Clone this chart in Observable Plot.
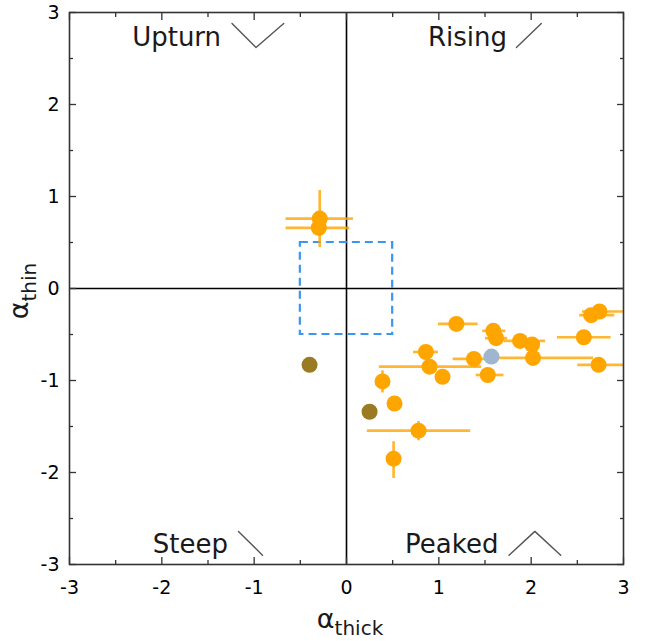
<!DOCTYPE html>
<html><head><meta charset="utf-8">
<script src="https://cdn.jsdelivr.net/npm/d3@7"></script>
<script src="https://cdn.jsdelivr.net/npm/@observablehq/plot@0.6"></script>
<style>body{margin:0;background:#fff;}</style>
</head><body><div id="chart"></div>
<script>
// ---- data ----
const pointX    = [-0.29,-0.30, 1.19, 0.86, 0.90, 1.04, 0.39, 1.59, 1.62, 1.88, 2.01, 1.38, 2.02, 1.53, 2.57, 2.73, 2.65, 2.74, 0.52, 0.78, 0.51,-0.40, 0.25, 1.57];
const pointY    = [ 0.76, 0.66,-0.385,-0.69,-0.85,-0.96,-1.01,-0.46,-0.54,-0.57,-0.61,-0.765,-0.755,-0.94,-0.53,-0.83,-0.29,-0.25,-1.25,-1.545,-1.85,-0.83,-1.34,-0.74];
const pointXLo  = [-0.66,-0.66, 0.99, 0.72, 0.35, 0.97, 0.34, 1.47, 1.50, 1.70, 1.93, 1.15, 1.62, 1.40, 2.28, 2.50, 2.52, 2.55, 0.44, 0.22, 0.46,-0.40, 0.25, 1.57];
const pointXHi  = [ 0.07, 0.03, 1.42, 0.99, 1.46, 1.10, 0.44, 1.72, 1.74, 2.15, 2.09, 1.62, 2.67, 1.70, 2.86, 3.10, 2.90, 3.10, 0.60, 1.34, 0.56,-0.40, 0.25, 1.57];
const pointYLo  = [ 0.45, 0.60,-0.42,-0.73,-0.89,-1.01,-1.13,-0.50,-0.58,-0.61,-0.66,-0.80,-0.80,-0.98,-0.57,-0.87,-0.33,-0.29,-1.33,-1.65,-2.06,-0.83,-1.34,-0.74];
const pointYHi  = [ 1.07, 0.72,-0.35,-0.65,-0.81,-0.91,-0.89,-0.42,-0.50,-0.53,-0.56,-0.73,-0.71,-0.90,-0.49,-0.79,-0.25,-0.21,-1.17,-1.44,-1.66,-0.83,-1.34,-0.74];
const pointGroup = ["o","o","o","o","o","o","o","o","o","o","o","o","o","o","o","o","o","o","o","o","o","olive","olive","blue"];

const xMajor = [-3,-2,-1,0,1,2,3];
const xMinor = [-2.5,-1.5,-0.5,0.5,1.5,2.5];
const yMajor = [-3,-2,-1,0,1,2,3];
const yMinor = [-2.5,-1.5,-0.5,0.5,1.5,2.5];

const boxRange = [-0.5, 0.5];

const annText = ["Upturn","Rising","Steep","Peaked"];
const annX = [-1.84, 1.31, -1.69, 1.14];
const annY = [2.73, 2.73, -2.78, -2.78];

const glyphName = ["up","up","up","rise","rise","steep","steep","peak","peak","peak"];
const glyphX = [-1.24,-0.98,-0.68, 1.84,2.11, -1.17,-0.91, 1.76,2.04,2.32];
const glyphY = [ 2.88, 2.62, 2.88, 2.62,2.88, -2.64,-2.90, -2.90,-2.64,-2.90];

const groupColor = {o: "#FFA500", olive: "#9A7A22", blue: "#9FB6CE"};

// ---- tables ----
const pts = pointX.map((x,i)=>({x, y: pointY[i], xlo: pointXLo[i], xhi: pointXHi[i], ylo: pointYLo[i], yhi: pointYHi[i], g: pointGroup[i]}));
const errPts = pts.filter(d => d.g === "o");
const ann = annText.map((t,i)=>({t, x: annX[i], y: annY[i]}));
const glyph = glyphName.map((n,i)=>({n, x: glyphX[i], y: glyphY[i]}));
const box = [{x1: boxRange[0], x2: boxRange[1], y1: boxRange[0], y2: boxRange[1]}];

const plot = Plot.plot({
  width: 647, height: 641,
  marginLeft: 69, marginRight: 24, marginTop: 12, marginBottom: 77,
  style: {fontFamily: "DejaVu Sans", background: "#fff", color: "#000"},
  x: {domain: [-3,3]},
  y: {domain: [-3,3]},
  marks: [
    Plot.ruleX([0], {stroke: "#000", strokeWidth: 1.6}),
    Plot.ruleY([0], {stroke: "#000", strokeWidth: 1.6}),
    Plot.rect(box, {x1:"x1", x2:"x2", y1:"y1", y2:"y2", fill: "none", stroke: "#3A96F0", strokeWidth: 2.2, strokeDasharray: "8,5"}),
    Plot.link(errPts, {x1: "xlo", x2: "xhi", y1: "y", y2: "y", stroke: "#FFA500", strokeOpacity: 0.8, strokeWidth: 2.7, clip: true}),
    Plot.link(errPts, {x1: "x", x2: "x", y1: "ylo", y2: "yhi", stroke: "#FFA500", strokeOpacity: 0.8, strokeWidth: 2.7, clip: true}),
    Plot.dot(pts, {x: "x", y: "y", r: 8, fill: d => groupColor[d.g], stroke: "none"}),
    Plot.line(glyph, {x: "x", y: "y", z: "n", stroke: "#555", strokeWidth: 1.4}),
    Plot.text(ann, {x: "x", y: "y", text: "t", fontSize: 26, fill: "#1a1a1a"}),
    Plot.frame({stroke: "#333", strokeWidth: 1.6}),
    // tick labels
    Plot.axisX(xMajor, {anchor: "bottom", tickSize: 0, tickPadding: 16, fontSize: 19, label: null, tickFormat: d => String(d)}),
    Plot.axisY(yMajor, {anchor: "left", tickSize: 0, tickPadding: 10, fontSize: 19, label: null, tickFormat: d => String(d)}),
    // inward ticks
    Plot.axisX(xMajor, {anchor: "bottom", tickSize: -7, tickFormat: () => "", label: null, stroke: "#333", strokeWidth: 1.3}),
    Plot.axisX(xMinor, {anchor: "bottom", tickSize: -4, tickFormat: () => "", label: null, stroke: "#333", strokeWidth: 1.3}),
    Plot.axisX(xMajor, {anchor: "top", tickSize: -7, tickFormat: () => "", label: null, stroke: "#333", strokeWidth: 1.3}),
    Plot.axisX(xMinor, {anchor: "top", tickSize: -4, tickFormat: () => "", label: null, stroke: "#333", strokeWidth: 1.3}),
    Plot.axisY(yMajor, {anchor: "left", tickSize: -7, tickFormat: () => "", label: null, stroke: "#333", strokeWidth: 1.3}),
    Plot.axisY(yMinor, {anchor: "left", tickSize: -4, tickFormat: () => "", label: null, stroke: "#333", strokeWidth: 1.3}),
    Plot.axisY(yMajor, {anchor: "right", tickSize: -7, tickFormat: () => "", label: null, stroke: "#333", strokeWidth: 1.3}),
    Plot.axisY(yMinor, {anchor: "right", tickSize: -4, tickFormat: () => "", label: null, stroke: "#333", strokeWidth: 1.3})
  ]
});

// axis labels with subscripts
const svg = d3.select(plot);
const sx = plot.scale("x"), sy = plot.scale("y");
const xl = svg.append("text")
  .attr("x", sx.apply(0) + 4).attr("y", 628)
  .attr("text-anchor", "middle").attr("font-size", 27).attr("fill", "#1a1a1a");
xl.append("tspan").text("α");
xl.append("tspan").attr("font-size", 20).attr("dy", 7).text("thick");
const yl = svg.append("text")
  .attr("transform", `translate(28,${sy.apply(0) + 3}) rotate(-90)`)
  .attr("text-anchor", "middle").attr("font-size", 27).attr("fill", "#1a1a1a");
yl.append("tspan").text("α");
yl.append("tspan").attr("font-size", 20).attr("dy", 8).text("thin");

document.getElementById("chart").appendChild(plot);
</script>
</body></html>
